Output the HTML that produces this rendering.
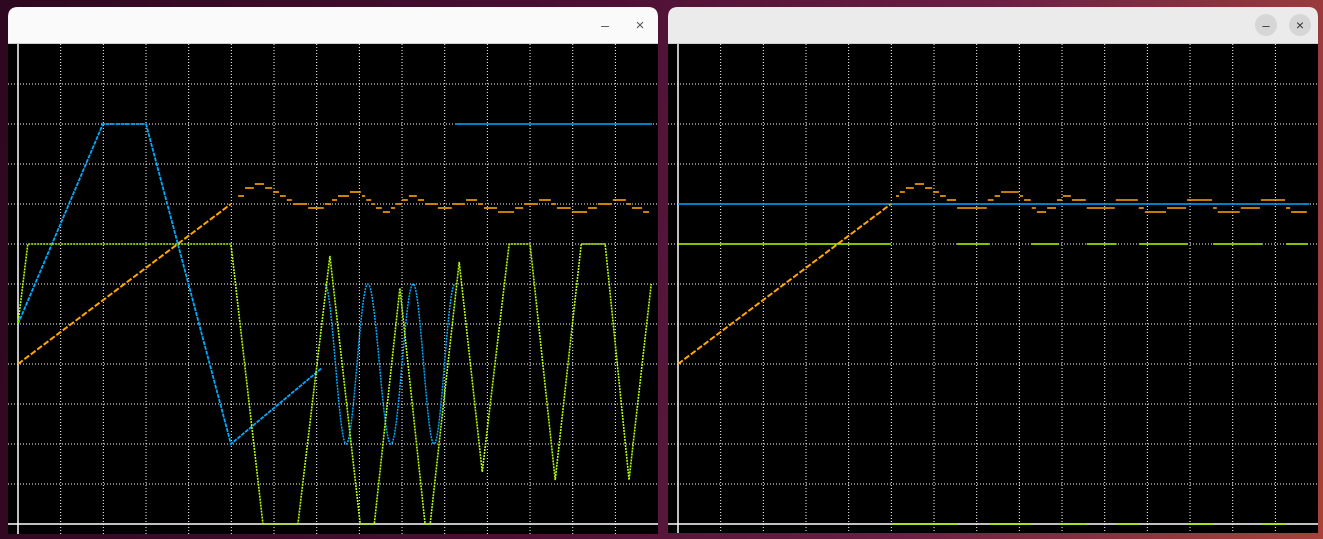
<!DOCTYPE html>
<html><head><meta charset="utf-8"><style>
html,body{margin:0;padding:0;width:1323px;height:539px;overflow:hidden;background:linear-gradient(100deg,#2e0720 0%,#4a0f33 40%,#6b1f45 70%,#a8423a 100%);font-family:"Liberation Sans",sans-serif}
svg{position:absolute;left:0;top:0}
</style></head><body>
<svg id="s" width="1323" height="539" xmlns="http://www.w3.org/2000/svg">
<g>
<path d="M8,534 V17 Q8,7 18,7 H648 Q658,7 658,17 V534 Z" fill="#fafafa"/>
<rect x="8" y="43" width="650" height="1" fill="#cfcfcf"/>
<rect x="8" y="44" width="650" height="490" fill="#000"/>
<text x="605" y="30" font-size="14" fill="#555" text-anchor="middle">–</text>
<text x="640" y="30" font-size="15" fill="#555" text-anchor="middle">×</text>
<g id="p1"></g>
</g>
<g>
<path d="M668,533 V17 Q668,7 678,7 H1308 Q1318,7 1318,17 V533 Z" fill="#ebebeb"/>
<rect x="668" y="43" width="650" height="1" fill="#cfcfcf"/>
<rect x="668" y="44" width="650" height="489" fill="#000"/>
<circle cx="1266" cy="25" r="11" fill="#d6d6d6"/>
<text x="1266" y="30" font-size="13" fill="#333" text-anchor="middle">–</text>
<circle cx="1300" cy="25" r="11" fill="#d6d6d6"/>
<text x="1300" y="30" font-size="14" fill="#333" text-anchor="middle">×</text>
<g id="p2"></g>
</g>
</svg>
<script>
// ---- data (t: time units, v: value units) ----
const xTicks=[10,20,30,40,50,60,70,80,90,100,110,120,130,140];
const yTicks=[1,2,3,4,5,6,7,8,9,10,11];
// left panel
const green1T=[0,2.3,49.9,57.4,65.6,73.1,80.2,83.5,89.5,95.4,96.6,103.4,108.8,115.1,120.0,125.9,132.0,137.6,143.2,148.4];
const green1V=[5,7,7,0,0,6.7,0,0,5.9,0,0,6.55,1.3,7,7,1.1,7,7,1.1,6.0];
const blue1RampT=[0,19.9,30.0,49.9,71.2];
const blue1RampV=[5,10,10,2,3.9];
const blue1SineT=[71.9,76.9,82.0,87.4,92.6,97.5,102.4];
const blue1SineV=[6,2,6,2,6,2,6];
const blue1FlatT=[102.4,148.6];
const blue1FlatV=[10,10];
const orange1RampT=[0,49.9];
const orange1RampV=[4,8];
const orange1T=[51.6,53.2,55.5,57.9,59.8,61.4,63.0,64.4,68.0,71.9,73.6,75.0,77.8,80.6,81.6,83.0,83.9,85.5,87.4,88.6,90.0,91.6,93.7,95.4,98.4,101.9,105.0,107.8,109.2,112.5,116.5,118.6,122.1,125.1,126.3,129.8,133.6,135.9,139.4,142.7,143.9,146.5,148.1];
const orange1V=[8.2,8.4,8.5,8.4,8.3,8.2,8.1,8.0,7.9,8.0,8.1,8.2,8.3,8.2,8.1,8.0,7.9,7.8,7.9,8.0,8.1,8.2,8.1,8.0,7.9,8.0,8.1,8.0,7.9,7.8,7.9,8.0,8.1,8.0,7.9,7.8,7.9,8.0,8.1,8.0,7.9,7.8,7.8];
// right panel
const blue2T=[0,148];
const blue2V=[8,8];
const orange2RampT=[0,49.9];
const orange2RampV=[4,8];
const orange2T=[51.1,52.0,53.4,55.5,57.9,59.8,61.4,63.0,65.4,72.6,74.2,75.7,80.1,81.1,82.9,84.1,86.5,88.8,90.2,92.3,95.8,102.6,108.0,109.4,114.6,119.3,125.4,126.5,131.9,136.6,142.5,143.7,147.6];
const orange2V=[8.2,8.3,8.4,8.5,8.4,8.3,8.2,8.1,7.9,8.1,8.2,8.3,8.2,8.1,7.9,7.8,7.9,8.1,8.2,8.1,7.9,8.1,7.9,7.8,7.9,8.1,7.9,7.8,7.9,8.1,7.9,7.8,7.8];
const green2Start=[0,65.4,82.7,95.8,108.0,125.4,142.5,49.9,72.9,89.3,102.8,119.5,136.9];
const green2End=[49.9,72.9,89.3,102.8,119.5,136.9,147.6,65.4,82.7,95.8,108.0,125.4,142.5];
const green2Level=[7,7,7,7,7,7,7,0,0,0,0,0,0];

const NS='http://www.w3.org/2000/svg';
const BLUE='#00aaff',ORANGE='#ffa500',GREEN='#b4ff00';
function mk(g,tag,attrs){const e=document.createElementNS(NS,tag);for(const k in attrs)e.setAttribute(k,attrs[k]);g.appendChild(e);return e;}
function panel(id,x0,left,right,bottom){
  const g=document.getElementById(id);
  const X=t=>x0+t*4.267, Y=v=>524-v*40;
  xTicks.forEach(t=>{const l=mk(g,'line',{x1:X(t),x2:X(t),y1:44,y2:bottom,stroke:'#fff','stroke-width':1,'stroke-dasharray':'1 2'});
    
    });
  yTicks.forEach(v=>{const l=mk(g,'line',{x1:left,x2:right,y1:Y(v),y2:Y(v),stroke:'#fff','stroke-width':1,'stroke-dasharray':'1 2'});
    
    });
  const ax=mk(g,'line',{x1:X(0),x2:X(0),y1:44,y2:bottom,stroke:'#fff','stroke-width':1.5});
  
  
  const ay=mk(g,'line',{x1:left,x2:right,y1:Y(0),y2:Y(0),stroke:'#fff','stroke-width':1.5});
  
  
  return {g,X,Y};
}
function poly(P,T,V,color,name,dash,w){
  const pts=T.map((t,i)=>P.X(t)+','+P.Y(V[i])).join(' ');
  const a={points:pts,fill:'none',stroke:color,'stroke-width':w||1.5};
  if(dash)a['stroke-dasharray']=dash;
  const e=mk(P.g,'polyline',a);
  
  
}
function steps(P,T,V,color,name){
  for(let i=0;i<T.length-1;i++){
    const e=mk(P.g,'line',{x1:P.X(T[i]),x2:Math.max(P.X(T[i])+3,P.X(T[i+1])-1),y1:P.Y(V[i]),y2:P.Y(V[i]),stroke:color,'stroke-width':1.6});
    
    
  }
}
function sine(P,T,V,color,name){
  let d='M'+P.X(T[0])+','+P.Y(V[0]);
  for(let i=1;i<T.length;i++){
    const xa=P.X(T[i-1]),xb=P.X(T[i]),dx=xb-xa;
    d+=' C'+(xa+dx*0.36)+','+P.Y(V[i-1])+' '+(xb-dx*0.36)+','+P.Y(V[i])+' '+xb+','+P.Y(V[i]);
  }
  const e=mk(P.g,'path',{d:d,fill:'none',stroke:color,'stroke-width':1.5,'stroke-dasharray':'2 1'});
  
  
}
const P1=panel('p1',18,8,658,534);
poly(P1,orange1RampT,orange1RampV,ORANGE,'orange-ramp-left','6 2',2);
steps(P1,orange1T,orange1V,ORANGE,'orange-step-left');
poly(P1,blue1RampT,blue1RampV,BLUE,'blue-ramp-left','4 1',1.8);
sine(P1,blue1SineT,blue1SineV,BLUE,'blue-sine-left');
poly(P1,blue1FlatT,blue1FlatV,BLUE,'blue-flat-left');
poly(P1,green1T,green1V,GREEN,'green-series-left','2 1',1.6);

const P2=panel('p2',678,668,1318,533);
poly(P2,blue2T,blue2V,BLUE,'blue-series-right');
poly(P2,orange2RampT,orange2RampV,ORANGE,'orange-ramp-right','6 2',2);
steps(P2,orange2T,orange2V,ORANGE,'orange-step-right');
for(let i=0;i<green2Start.length;i++){
  const e=mk(P2.g,'line',{x1:P2.X(green2Start[i]),x2:P2.X(green2End[i]),y1:P2.Y(green2Level[i]),y2:P2.Y(green2Level[i]),stroke:GREEN,'stroke-width':1.5});
  
  
}
</script>
</body></html>
